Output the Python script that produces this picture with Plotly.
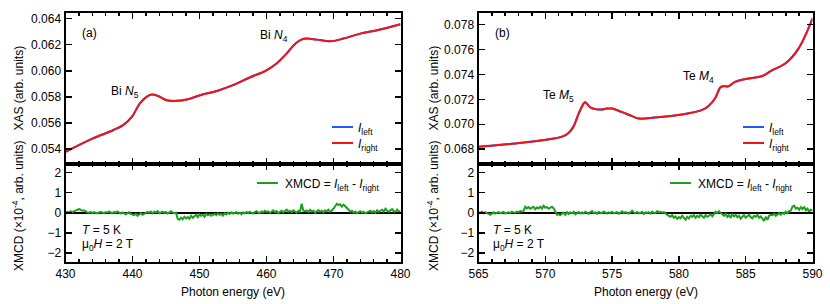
import numpy as np
import plotly.graph_objects as go

W, H = 830, 304

# ---------------- data ----------------
# Panel (a): Bi N4,5 edges
energy_a = [430.0, 434.1, 437.1, 438.6, 439.9, 441.1, 442.1, 442.9, 443.9, 445.1, 446.6,
            448.1, 450.1, 452.6, 455.0, 457.5, 460.0, 461.5, 463.0, 464.3, 465.3, 466.0,
            467.5, 469.5, 471.5, 474.0, 476.5, 480.0]
xas_right_a = [0.05379, 0.05482, 0.05545, 0.05584, 0.05647, 0.05750, 0.05800, 0.05818,
               0.05805, 0.05775, 0.05770, 0.05780, 0.05813, 0.05846, 0.05890, 0.05949,
               0.06004, 0.06056, 0.06132, 0.06208, 0.06241, 0.06247, 0.06239, 0.06226,
               0.06247, 0.06285, 0.06311, 0.06357]
xas_left_a = list(xas_right_a)

# Panel (b): Te M4,5 edges
energy_b = [565.0, 567.75, 570.2, 571.2, 571.7, 572.1, 572.5, 572.9, 573.0, 573.4, 574.2,
            574.6, 575.0, 575.7, 576.5, 577.0, 578.2, 580.2, 581.7, 582.2, 582.7, 583.1,
            583.3, 583.7, 584.2, 585.2, 586.2, 586.96, 587.96, 588.95, 590.0]
xas_right_b = [0.06819, 0.06846, 0.06878, 0.06899, 0.06926, 0.06979, 0.07086, 0.07171,
               0.07177, 0.07134, 0.07118, 0.07126, 0.07126, 0.07099, 0.07065, 0.07046,
               0.07054, 0.07078, 0.07113, 0.07145, 0.07207, 0.07295, 0.07305, 0.07305,
               0.07340, 0.07367, 0.07385, 0.07433, 0.07487, 0.07607, 0.07848]
xas_left_b = list(xas_right_b)

# XMCD (x10^-4), sampled every 0.25 eV (a) and 0.125 eV (b)
xmcd_a = [0.02, 0.05, 0.0, 0.08, 0.03, 0.06, 0.1, 0.12, 0.18,
          0.15, 0.1, 0.12, 0.05,
          0.02, 0.0, 0.04, -0.02, 0.03, 0.0, -0.03, 0.02, 0.05, 0.01, -0.02, 0.03,
          0.0, 0.06, 0.02, -0.03, 0.04, 0.01, 0.07, 0.0, -0.04, 0.02, -0.05, -0.08, -0.02, 0.03, -0.06, -0.1,
          -0.12, -0.05, -0.15, -0.08, -0.02, -0.1, -0.06, 0.02,
          0.04, 0.0, 0.06, -0.03, 0.05, 0.02, 0.08, -0.02, 0.03, 0.06, 0.0, 0.04, -0.04, 0.02, 0.07, 0.01, -0.02, 0.0,
          -0.3, -0.35, -0.25, -0.32, -0.2, -0.28, -0.22, -0.3, -0.15, -0.25, -0.18, -0.1, -0.22, -0.08,
          -0.15, -0.1, -0.2, -0.05, -0.12, -0.08, -0.15, -0.1, -0.06, -0.12, -0.03, -0.1, -0.05, -0.14, -0.02, -0.08, 0.0, -0.06, 0.02, -0.04,
          -0.02, 0.03, -0.05, 0.0, -0.08, 0.02, -0.03, 0.04, -0.01, 0.05, 0.0, -0.04, 0.03, 0.08, 0.01, -0.02, 0.06, 0.02, 0.1, 0.04,
          0.07, 0.0, 0.05, 0.12, 0.03, 0.08, -0.02, 0.06, 0.1, 0.02, 0.08, 0.15, 0.05, 0.1, 0.03, 0.12, 0.06, 0.0, 0.1, 0.05,
          0.45, 0.1,
          0.08, 0.12, 0.04, 0.15, 0.06, 0.1, 0.0, 0.08, 0.13, 0.05, 0.1, 0.02, 0.12, 0.07, 0.15, 0.05, 0.1, 0.2,
          0.35, 0.45, 0.38, 0.42, 0.3, 0.4, 0.32, 0.25,
          0.15, 0.05, 0.1, 0.0, 0.06, -0.02, 0.04, 0.08, 0.0, 0.05, -0.03, 0.03,
          0.06, 0.1, 0.02, 0.08, 0.0, 0.12, 0.05, 0.1, 0.15, 0.06, 0.2, 0.1, 0.05, 0.12, 0.18, 0.08, 0.02, 0.15, 0.05, 0.1]

xmcd_b = [0.02, 0.0, 0.05, -0.02, 0.03, 0.0, -0.05, -0.1, -0.03, 0.02, -0.04, 0.0, 0.03, -0.02,
          0.01, 0.04, -0.03, 0.0, 0.02, -0.01, 0.05, 0.02, 0.0, 0.06, 0.03, 0.08, 0.05, 0.1,
          0.3, 0.22, 0.28, 0.2, 0.25, 0.3, 0.18, 0.26, 0.22, 0.3, 0.2, 0.35, 0.25, 0.28, 0.2, 0.26, 0.3, 0.22,
          0.05, -0.1, -0.08, -0.12,
          -0.05, 0.0, -0.1, 0.03, -0.06, 0.02, -0.02, 0.05, -0.08, 0.0, 0.04, -0.04,
          0.02, -0.03, 0.05, 0.0, -0.06, 0.03, 0.08, -0.02, 0.02, -0.05,
          0.04, 0.0, -0.03, 0.06, 0.01, -0.04, 0.02, -0.01, 0.05, -0.02,
          0.0, 0.03, -0.05, 0.02, 0.07, -0.01, 0.03, 0.0, -0.04, 0.02,
          0.1, 0.02, -0.02, 0.04, -0.03, 0.0, 0.05, -0.06, 0.02, -0.01,
          0.03, -0.04, 0.06, 0.0, -0.02, 0.08, 0.02, 0.05, 0.0, 0.03,
          -0.05, -0.1, -0.15, -0.2, -0.12, -0.25, -0.18, -0.3, -0.22, -0.28, -0.15, -0.25, -0.35, -0.2, -0.28, -0.15,
          -0.2, -0.12, -0.25, -0.15, -0.22, -0.1, -0.18, -0.25, -0.12, -0.2, -0.15, -0.08, -0.18, -0.05,
          0.05, -0.02, 0.08, 0.0,
          -0.1, -0.15, -0.05, -0.2, -0.12, -0.25, -0.08, -0.18, -0.1, -0.22, -0.15, -0.3, -0.2, -0.12,
          -0.25, -0.18, -0.1, -0.22, -0.28, -0.15, -0.2, -0.1, -0.25, -0.18,
          -0.3, -0.4, -0.2, -0.35, -0.15, -0.1,
          -0.12, -0.05, -0.15, -0.08, -0.02, -0.1, 0.0, -0.06, 0.05, -0.02, 0.08, 0.1,
          0.3, 0.35, 0.2, 0.25, 0.15, 0.28, 0.18, 0.3, 0.12, 0.2, 0.05, 0.15, 0.1]

xmcd_energy_a = np.linspace(430, 480, len(xmcd_a))
xmcd_energy_b = np.linspace(565, 590, len(xmcd_b))

# ---------------- style ----------------
FONT = "Liberation Sans, Arial, sans-serif"
BLUE = "rgb(30,90,255)"
RED = "rgb(240,20,20)"
GREEN = "rgb(30,160,30)"


def px(x, y):
    return x / W, 1 - y / H


xa_dom = [65.5 / W, 400.5 / W]
xb_dom = [478.5 / W, 812.5 / W]
y_top = [1 - 163.5 / H, 1 - 13 / H]
y_bot = [1 - 262 / H, 1 - 163.5 / H]

fig = go.Figure()

fig.add_trace(go.Scatter(x=energy_a, y=xas_left_a, mode="lines", line=dict(color=BLUE, width=2, shape="spline"),
                         xaxis="x", yaxis="y", showlegend=False))
fig.add_trace(go.Scatter(x=energy_a, y=xas_right_a, mode="lines", line=dict(color=RED, width=2, shape="spline"),
                         xaxis="x", yaxis="y", showlegend=False))
fig.add_trace(go.Scatter(x=xmcd_energy_a, y=xmcd_a, mode="lines", line=dict(color=GREEN, width=2),
                         xaxis="x2", yaxis="y2", showlegend=False))
fig.add_trace(go.Scatter(x=energy_b, y=xas_left_b, mode="lines", line=dict(color=BLUE, width=2, shape="spline"),
                         xaxis="x3", yaxis="y3", showlegend=False))
fig.add_trace(go.Scatter(x=energy_b, y=xas_right_b, mode="lines", line=dict(color=RED, width=2, shape="spline"),
                         xaxis="x3", yaxis="y3", showlegend=False))
fig.add_trace(go.Scatter(x=xmcd_energy_b, y=xmcd_b, mode="lines", line=dict(color=GREEN, width=2),
                         xaxis="x4", yaxis="y4", showlegend=False))

common = dict(showline=True, linecolor="black", linewidth=2, mirror="ticks", ticks="inside",
              tickcolor="black", tickwidth=1.5, ticklen=6, showgrid=False, zeroline=False,
              automargin=False, tickfont=dict(family=FONT, size=12, color="black"))


def xaxis(dom, rng, dtick, minor, anchor, labels):
    d = dict(common)
    d.update(domain=dom, range=rng, dtick=dtick, tick0=rng[0], anchor=anchor, showticklabels=labels,
             minor=dict(dtick=minor, ticks="inside", ticklen=3, tickwidth=1.5, tickcolor="black", showgrid=False))
    return d


def yaxis(dom, rng, anchor, **kw):
    d = dict(common)
    d.update(domain=dom, range=rng, anchor=anchor)
    d.update(kw)
    return d


fig.update_layout(
    template="none",
    width=W, height=H, margin=dict(l=0, r=0, t=0, b=0, autoexpand=False),
    paper_bgcolor="white", plot_bgcolor="white",
    font=dict(family=FONT, size=12, color="black"),
    xaxis=xaxis(xa_dom, [430, 480], 10, 2, "y", False),
    yaxis=yaxis(y_top, [0.0529, 0.06443], "x", dtick=0.002, tick0=0.054, tickformat=".3f"),
    xaxis2=xaxis(xa_dom, [430, 480], 10, 2, "y2", True),
    yaxis2=yaxis(y_bot, [-2.45, 2.45], "x2", tickvals=[-2, -1, 0, 1, 2],
                 zeroline=True, zerolinecolor="black", zerolinewidth=1.5),
    xaxis3=xaxis(xb_dom, [565, 590], 5, 1, "y3", False),
    yaxis3=yaxis(y_top, [0.06685, 0.07893], "x3", dtick=0.002, tick0=0.068, tickformat=".3f"),
    xaxis4=xaxis(xb_dom, [565, 590], 5, 1, "y4", True),
    yaxis4=yaxis(y_bot, [-2.45, 2.45], "x4", tickvals=[-2, -1, 0, 1, 2],
                 zeroline=True, zerolinecolor="black", zerolinewidth=1.5),
)

ann = []


def text(x, y, s, xanchor="center", size=12, angle=0):
    X, Y = px(x, y)
    ann.append(dict(x=X, y=Y, xref="paper", yref="paper", text=s, showarrow=False,
                    xanchor=xanchor, yanchor="middle", textangle=angle,
                    font=dict(family=FONT, size=size, color="black")))


shapes = []


def key(x0, x1, y, color):
    X0, Y = px(x0, y)
    X1, _ = px(x1, y)
    shapes.append(dict(type="line", xref="paper", yref="paper", x0=X0, x1=X1, y0=Y, y1=Y,
                       line=dict(color=color, width=2)))


for off, lab, e1, e1x, e1y, e2, e2x, e2y, lx in [
        (0, "(a)", "Bi <i>N</i><sub>5</sub>", 125, 92, "Bi <i>N</i><sub>4</sub>", 274, 36, 332),
        (413, "(b)", "Te <i>M</i><sub>5</sub>", 558, 96, "Te <i>M</i><sub>4</sub>", 698, 77, 743)]:
    text(89 + off, 33, lab)
    text(e1x, e1y, e1)
    text(e2x, e2y, e2)
    key(lx, lx + 21, 127, BLUE)
    key(lx, lx + 21, 143, RED)
    text(lx + 24, 129, "<i>I</i><sub>left</sub>", xanchor="left")
    text(lx + 24, 145, "<i>I</i><sub>right</sub>", xanchor="left")
    text(80 + off - (2 if off else 0), 230, "<i>T</i> = 5 K", xanchor="left")
    text(80 + off - (2 if off else 0), 245, "μ<sub>0</sub><i>H</i> = 2 T", xanchor="left")
    text(18 + off + (2 if off else 0), 88.5, "XAS (arb. units)", angle=-90)
    text(18 + off + (2 if off else 0), 206, "XMCD (×10<sup>-4</sup>, arb. units)", angle=-90)

key(257, 278, 183, GREEN)
text(283, 185, "XMCD = <i>I</i><sub>left</sub> - <i>I</i><sub>right</sub>", xanchor="left")
key(670, 691, 183, GREEN)
text(696, 185, "XMCD = <i>I</i><sub>left</sub> - <i>I</i><sub>right</sub>", xanchor="left")

text((65.5 + 400.5) / 2, 291.5, "Photon energy (eV)")
text((478.5 + 812.5) / 2, 291.5, "Photon energy (eV)")

fig.update_layout(annotations=ann, shapes=shapes)
fig.write_html("out.html", config={"displayModeBar": False, "staticPlot": True},
               post_script="document.body.style.margin='0px';document.body.style.padding='0px';"
                           "document.documentElement.style.overflow='hidden';")
